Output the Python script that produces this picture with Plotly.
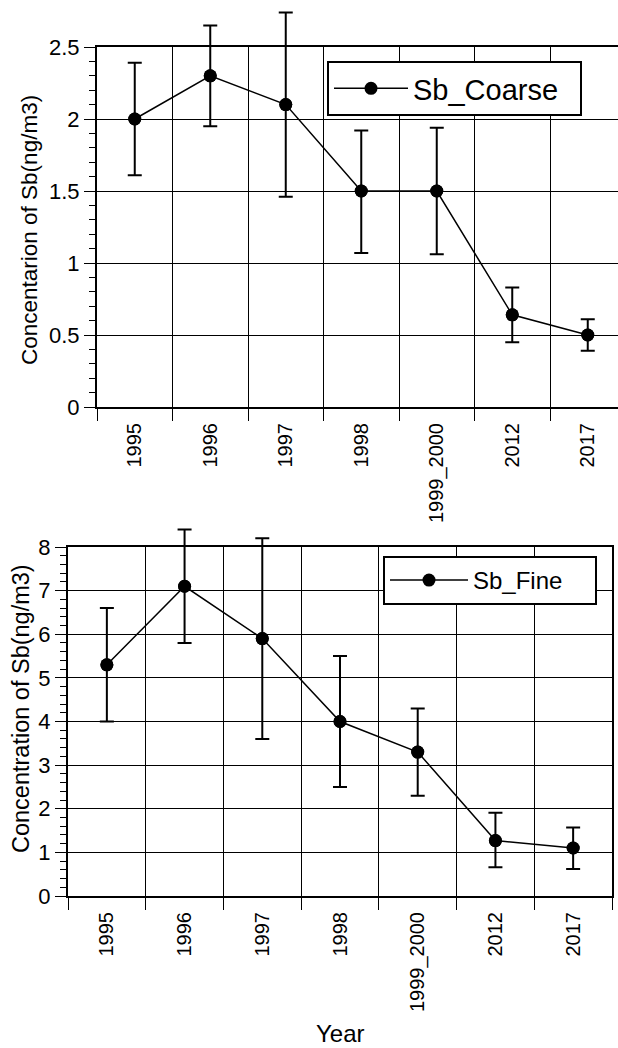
import plotly.graph_objects as go

# ---- data ----
years = ["1995", "1996", "1997", "1998", "1999_2000", "2012", "2017"]
coarse = [2.0, 2.3, 2.1, 1.5, 1.5, 0.64, 0.5]
coarse_hi = [2.39, 2.65, 2.74, 1.92, 1.94, 0.83, 0.61]
coarse_lo = [1.61, 1.95, 1.46, 1.07, 1.06, 0.45, 0.39]
fine = [5.3, 7.1, 5.9, 4.0, 3.3, 1.27, 1.1]
fine_hi = [6.6, 8.4, 8.2, 5.5, 4.3, 1.91, 1.57]
fine_lo = [4.0, 5.8, 3.6, 2.5, 2.3, 0.66, 0.62]

W, H = 618, 1048
FONT = "Liberation Sans, Arial, sans-serif"

# plot-area geometry (pixels)
T_L, T_R, T_TOP, T_BOT = 97, 618, 47, 407
B_L, B_R, B_TOP, B_BOT = 68, 612, 547, 896
T_YMAX, B_YMAX = 2.5, 8
T_EXT, B_EXT = 0, 505   # extended top for error bars drawn past the frame


def px_x(p):
    return p / W


def px_y(p):
    return 1 - p / H


def err(v, hi, lo):
    return dict(type="data", symmetric=False,
                array=[h - x for x, h in zip(v, hi)],
                arrayminus=[x - l for x, l in zip(v, lo)],
                color="black", thickness=2, width=7)


fig = go.Figure()
# main lines + markers
fig.add_trace(go.Scatter(x=years, y=coarse, name="Sb_Coarse  ", mode="lines+markers",
                         line=dict(color="black", width=1.5),
                         marker=dict(color="black", size=13),
                         cliponaxis=False, xaxis="x", yaxis="y", legend="legend"))
fig.add_trace(go.Scatter(x=years, y=fine, name="Sb_Fine    ", mode="lines+markers",
                         line=dict(color="black", width=1.5),
                         marker=dict(color="black", size=13),
                         cliponaxis=False, xaxis="x2", yaxis="y2", legend="legend2"))
# error bars on invisible axes sharing the same scale but a taller clip area
fig.add_trace(go.Scatter(x=years, y=coarse, mode="markers", showlegend=False,
                         marker=dict(color="black", size=13),
                         error_y=err(coarse, coarse_hi, coarse_lo),
                         cliponaxis=False, xaxis="x3", yaxis="y3", hoverinfo="skip"))
fig.add_trace(go.Scatter(x=years, y=fine, mode="markers", showlegend=False,
                         marker=dict(color="black", size=13),
                         error_y=err(fine, fine_hi, fine_lo),
                         cliponaxis=False, xaxis="x4", yaxis="y4", hoverinfo="skip"))

common_x = dict(type="category", tickson="boundaries", showgrid=True, gridcolor="black",
                gridwidth=1, ticks="outside", ticklen=12, tickwidth=1, tickcolor="black",
                tickangle=-90, showline=True, linecolor="black", linewidth=2,
                ticklabelstandoff=6,
                categoryorder="array", categoryarray=years,
                tickfont=dict(size=20, color="black", family=FONT), zeroline=False)
common_y = dict(showgrid=True, gridcolor="black", gridwidth=1, ticks="outside", ticklen=11,
                tickwidth=1, tickcolor="black", showline=True, linecolor="black", linewidth=2,
                tickfont=dict(size=22, color="black", family=FONT), zeroline=False)

t_range_hi = -0.5 + (T_R - T_L) / 75.5

fig.update_layout(
    width=W, height=H, margin=dict(l=0, r=0, t=0, b=0, autoexpand=False),
    paper_bgcolor="white", plot_bgcolor="rgba(0,0,0,0)",
    font=dict(family=FONT, color="black"),
    xaxis=dict(common_x, domain=[px_x(T_L), px_x(T_R)], anchor="y",
               range=[-0.5, t_range_hi], mirror=True),
    yaxis=dict(common_y, domain=[px_y(T_BOT), px_y(T_TOP)], anchor="x", range=[0, T_YMAX], dtick=0.5,
               minor=dict(ticks="outside", ticklen=6, dtick=0.1, tickcolor="black", showgrid=False)),
    xaxis2=dict(common_x, domain=[px_x(B_L), px_x(B_R)], anchor="y2", range=[-0.5, 6.5], mirror=True),
    yaxis2=dict(common_y, domain=[px_y(B_BOT), px_y(B_TOP)], anchor="x2", range=[0, B_YMAX], dtick=1,
                mirror=True,
                minor=dict(ticks="outside", ticklen=6, dtick=0.2, tickcolor="black", showgrid=False)),
    xaxis3=dict(type="category", categoryorder="array", categoryarray=years, visible=False,
                domain=[px_x(T_L), px_x(T_R)], anchor="y3", range=[-0.5, t_range_hi]),
    yaxis3=dict(visible=False, domain=[px_y(T_BOT), px_y(T_EXT)], anchor="x3",
                range=[0, T_YMAX * (T_BOT - T_EXT) / (T_BOT - T_TOP)]),
    xaxis4=dict(type="category", categoryorder="array", categoryarray=years, visible=False,
                domain=[px_x(B_L), px_x(B_R)], anchor="y4", range=[-0.5, 6.5]),
    yaxis4=dict(visible=False, domain=[px_y(B_BOT), px_y(B_EXT)], anchor="x4",
                range=[0, B_YMAX * (B_BOT - B_EXT) / (B_BOT - B_TOP)]),
    legend=dict(x=px_x(327), y=px_y(61), xanchor="left", yanchor="top", bgcolor="white",
                bordercolor="black", borderwidth=2, itemwidth=74,
                font=dict(size=29, family=FONT)),
    legend2=dict(x=px_x(383), y=px_y(556), xanchor="left", yanchor="top", bgcolor="white",
                 bordercolor="black", borderwidth=2, itemwidth=78,
                 font=dict(size=24, family=FONT)),
    showlegend=True,
    annotations=[
        dict(text="Concentarion of Sb(ng/m3)", x=px_x(30), y=px_y(230), xref="paper", yref="paper",
             textangle=-90, showarrow=False, xanchor="center", yanchor="middle",
             font=dict(size=22.5, family=FONT)),
        dict(text="Concentration of Sb(ng/m3)", x=px_x(21), y=px_y(709), xref="paper", yref="paper",
             textangle=-90, showarrow=False, xanchor="center", yanchor="middle",
             font=dict(size=23.5, family=FONT)),
        dict(text="Year", x=px_x(340), y=px_y(1033), xref="paper", yref="paper",
             showarrow=False, xanchor="center", yanchor="middle",
             font=dict(size=24, family=FONT)),
    ],
)

fig.write_html("out.html")
